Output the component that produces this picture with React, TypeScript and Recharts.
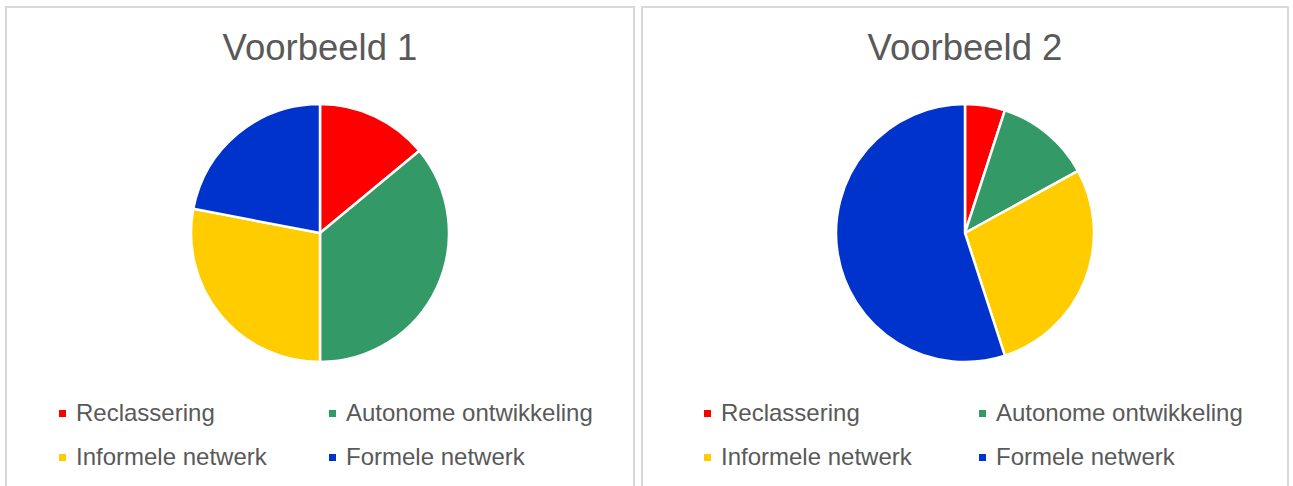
import React from "react";
import { PieChart, Pie, Cell, Legend } from "recharts";

const categories = ["Reclassering", "Autonome ontwikkeling", "Informele netwerk", "Formele netwerk"];
const colors = ["#FF0000", "#339966", "#FFCC00", "#0033CC"];
const voorbeeld1Values = [14, 36, 28, 22];
const voorbeeld2Values = [5, 12, 28, 55];
const titles = ["Voorbeeld 1", "Voorbeeld 2"];

const FONT = '"Liberation Sans", Arial, sans-serif';
const TEXT = "#595959";

type PanelLayout = { left: number; width: number; legendLeft: number; colWidth: number };

const layouts: PanelLayout[] = [
  { left: 5, width: 630, legendLeft: 52, colWidth: 270 },
  { left: 641, width: 648, legendLeft: 61, colWidth: 275 },
];

function makeData(values: number[]) {
  return categories.map((name, i) => ({ name, value: values[i] }));
}

function LegendContent(props: any) {
  const { legendLeft, colWidth } = props;
  return (
    <div
      style={{
        display: "grid",
        gridTemplateColumns: `${colWidth}px auto`,
        rowGap: 20,
        marginLeft: legendLeft,
        fontFamily: FONT,
        fontSize: 24,
        color: TEXT,
        lineHeight: "24px",
      }}
    >
      {categories.map((name, i) => (
        <div key={name} style={{ display: "flex", alignItems: "center", whiteSpace: "nowrap" }}>
          <span
            style={{
              display: "inline-block",
              width: 7,
              height: 7,
              background: colors[i],
              marginRight: 10,
              marginTop: 1,
            }}
          />
          <span>{name}</span>
        </div>
      ))}
    </div>
  );
}

function Panel({ index, values }: { index: number; values: number[] }) {
  const lay = layouts[index];
  const data = makeData(values);
  const innerW = lay.width - 4;
  return (
    <div
      style={{
        position: "absolute",
        left: lay.left,
        top: 6,
        width: lay.width,
        height: 520,
        boxSizing: "border-box",
        border: "2px solid #D9D9D9",
        background: "#fff",
      }}
    >
      <div
        style={{
          position: "absolute",
          left: 0,
          top: 22,
          width: innerW,
          textAlign: "center",
          fontFamily: FONT,
          fontSize: 36.5,
          lineHeight: "36px",
          color: TEXT,
          zIndex: 2,
        }}
      >
        {titles[index]}
      </div>
      <div style={{ position: "absolute", left: 0, top: 0 }}>
        <PieChart width={innerW} height={500} margin={{ top: 0, right: 0, bottom: 0, left: 0 }}>
          <Pie
            data={data}
            dataKey="value"
            nameKey="name"
            cx="50%"
            cy={225}
            outerRadius={129}
            startAngle={90}
            endAngle={-270}
            stroke="#FFFFFF"
            strokeWidth={2.5}
            isAnimationActive={false}
            legendType="square"
          >
            {data.map((d, i) => (
              <Cell key={d.name} fill={colors[i]} />
            ))}
          </Pie>
          <Legend
            layout="vertical"
            verticalAlign="middle"
            align="center"
            wrapperStyle={{ position: "absolute", top: 393, left: 0, width: innerW }}
            content={(p: any) => <LegendContent {...p} legendLeft={lay.legendLeft} colWidth={lay.colWidth} />}
          />
        </PieChart>
      </div>
    </div>
  );
}

export default function App() {
  return (
    <div
      style={{
        position: "absolute",
        left: 0,
        top: 0,
        width: 1293,
        height: 486,
        overflow: "hidden",
        background: "#fff",
      }}
    >
      <Panel index={0} values={voorbeeld1Values} />
      <Panel index={1} values={voorbeeld2Values} />
    </div>
  );
}
